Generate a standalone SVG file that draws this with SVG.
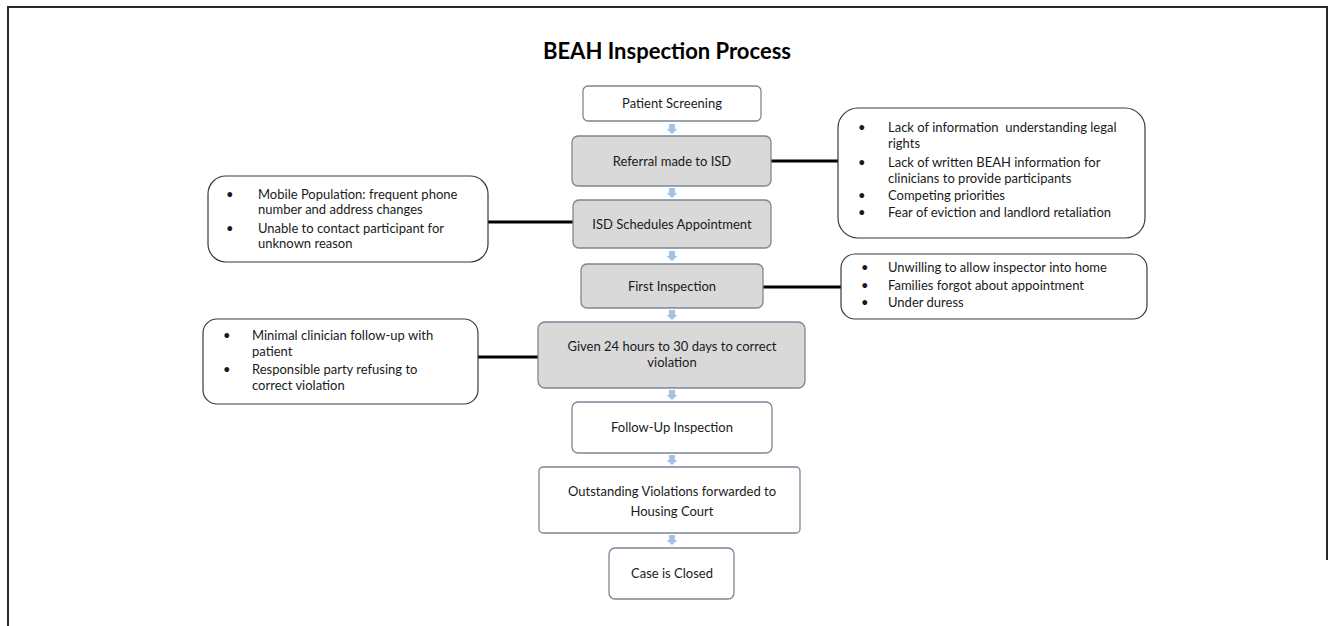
<svg xmlns="http://www.w3.org/2000/svg" width="1333" height="626" viewBox="0 0 1333 626">
<style>
  .t{font-family:Lato,"Liberation Sans",sans-serif;font-size:13px;fill:#1a1a1a}
  .c{text-anchor:middle}
  .box{stroke:#7b8794;stroke-width:1.3}
  .w{fill:#ffffff}
  .g{fill:#d9d9d9}
  .call{fill:#ffffff;stroke:#3a3a3a;stroke-width:1.2}
  .con{stroke:#000;stroke-width:3;fill:none}
  .arr{fill:#a7c1e3}
  .frame{stroke:#2a2a2a;stroke-width:2;fill:none}
</style>
<defs>
  <path id="dn" d="M-3,0 H3 V5 H5.5 L0,10 L-5.5,5 H-3 Z"/>
</defs>
<rect width="1333" height="626" fill="#ffffff"/>
<path class="frame" d="M8,626 V7 H1327 V560"/>
<text x="667" y="59" text-anchor="middle" style="font-family:Lato,'Liberation Sans',sans-serif;font-size:22px;font-weight:bold;fill:#000">BEAH Inspection Process</text>

<g id="connectors">
  <line class="con" x1="771" y1="161" x2="838" y2="161"/>
  <line class="con" x1="488" y1="222" x2="573" y2="222"/>
  <line class="con" x1="763" y1="287" x2="841" y2="287"/>
  <line class="con" x1="478" y1="357" x2="538" y2="357"/>
  <use href="#dn" class="arr" x="672" y="124"/>
  <use href="#dn" class="arr" x="672" y="188"/>
  <use href="#dn" class="arr" x="672" y="251"/>
  <use href="#dn" class="arr" x="672" y="310"/>
  <use href="#dn" class="arr" x="672" y="390"/>
  <use href="#dn" class="arr" x="672" y="455"/>
  <use href="#dn" class="arr" x="672" y="535"/>
</g>

<g id="n-screening">
  <rect class="box w" x="583" y="86" width="178" height="35" rx="5"/>
  <text class="t c" x="672" y="108">Patient Screening</text>
</g>
<g id="n-referral">
  <rect class="box g" x="572" y="136" width="199" height="50" rx="6"/>
  <text class="t c" x="672" y="166">Referral made to ISD</text>
</g>
<g id="n-schedule">
  <rect class="box g" x="573" y="200" width="198" height="48" rx="6"/>
  <text class="t c" x="672" y="229">ISD Schedules Appointment</text>
</g>
<g id="n-first">
  <rect class="box g" x="581" y="264" width="182" height="44" rx="6"/>
  <text class="t c" x="672" y="291">First Inspection</text>
</g>
<g id="n-given">
  <rect class="box g" x="538" y="322" width="267" height="66" rx="7"/>
  <text class="t c" x="672" y="351">Given 24 hours to 30 days to correct</text>
  <text class="t c" x="672" y="367">violation</text>
</g>
<g id="n-followup">
  <rect class="box w" x="572" y="402" width="200" height="51" rx="6"/>
  <text class="t c" x="672" y="432">Follow-Up Inspection</text>
</g>
<g id="n-outstanding">
  <rect class="box w" x="539" y="467" width="261" height="66" rx="4"/>
  <text class="t c" x="672" y="496">Outstanding Violations forwarded to</text>
  <text class="t c" x="672" y="516">Housing Court</text>
</g>
<g id="n-closed">
  <rect class="box w" x="609" y="548" width="125" height="51" rx="6"/>
  <text class="t c" x="672" y="578">Case is Closed</text>
</g>

<g id="n-barriers-referral">
  <rect class="call" x="838" y="108" width="307" height="130" rx="20"/>
  <text class="t" x="858" y="132">•</text>
  <text class="t" x="888" y="132" xml:space="preserve">Lack of information  understanding legal</text>
  <text class="t" x="888" y="148">rights</text>
  <text class="t" x="858" y="167">•</text>
  <text class="t" x="888" y="167">Lack of written BEAH information for</text>
  <text class="t" x="888" y="183">clinicians to provide participants</text>
  <text class="t" x="858" y="200">•</text>
  <text class="t" x="888" y="200">Competing priorities</text>
  <text class="t" x="858" y="217">•</text>
  <text class="t" x="888" y="217">Fear of eviction and landlord retaliation</text>
</g>
<g id="n-barriers-schedule">
  <rect class="call" x="208" y="176" width="280" height="86" rx="18"/>
  <text class="t" x="226" y="199">•</text>
  <text class="t" x="258" y="199">Mobile Population: frequent phone</text>
  <text class="t" x="258" y="214">number and address changes</text>
  <text class="t" x="226" y="233">•</text>
  <text class="t" x="258" y="233">Unable to contact participant for</text>
  <text class="t" x="258" y="248">unknown reason</text>
</g>
<g id="n-barriers-first">
  <rect class="call" x="841" y="254" width="306" height="65" rx="14"/>
  <text class="t" x="861" y="272">•</text>
  <text class="t" x="888" y="272">Unwilling to allow inspector into home</text>
  <text class="t" x="861" y="290">•</text>
  <text class="t" x="888" y="290">Families forgot about appointment</text>
  <text class="t" x="861" y="307">•</text>
  <text class="t" x="888" y="307">Under duress</text>
</g>
<g id="n-barriers-given">
  <rect class="call" x="203" y="319" width="275" height="85" rx="14"/>
  <text class="t" x="223" y="340">•</text>
  <text class="t" x="252" y="340">Minimal clinician follow-up with</text>
  <text class="t" x="252" y="356">patient</text>
  <text class="t" x="223" y="374">•</text>
  <text class="t" x="252" y="374">Responsible party refusing to</text>
  <text class="t" x="252" y="390">correct violation</text>
</g>
</svg>
